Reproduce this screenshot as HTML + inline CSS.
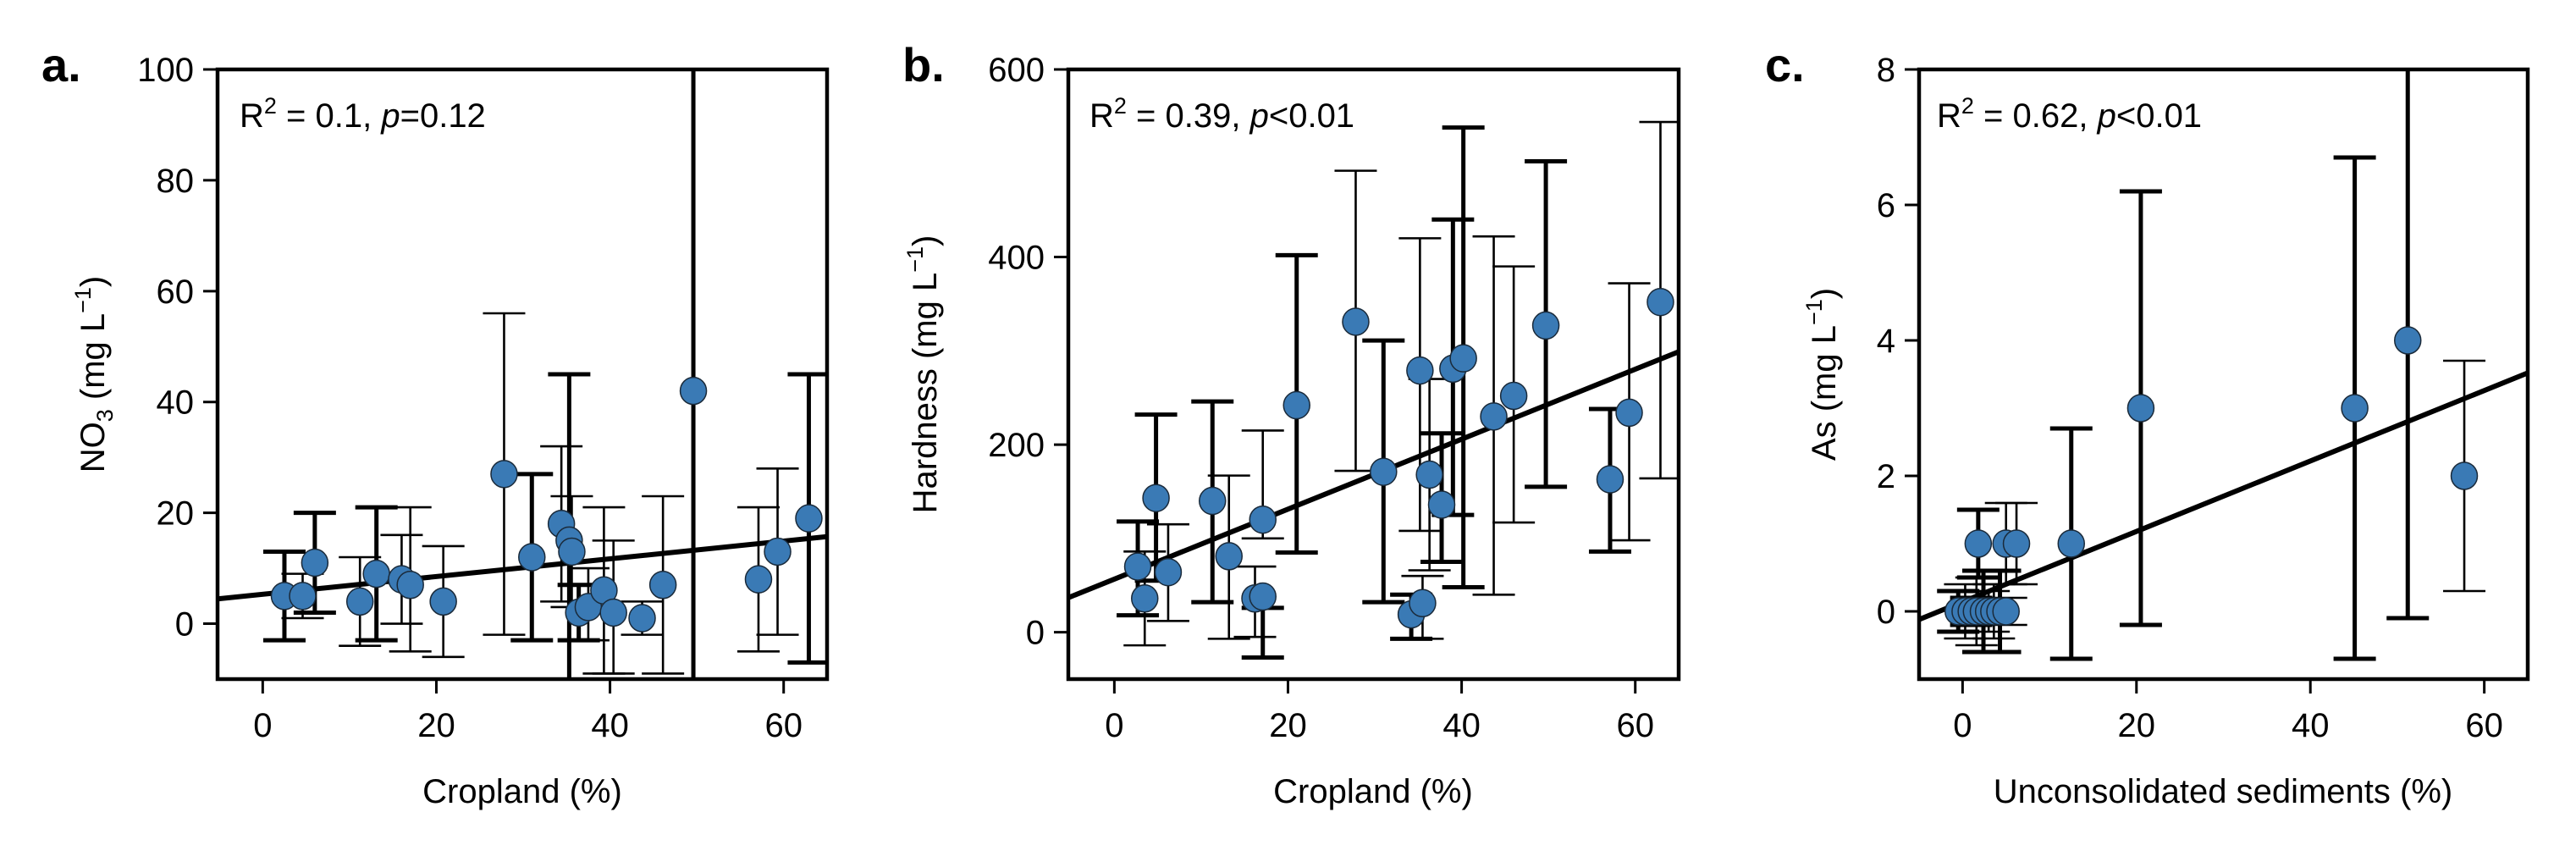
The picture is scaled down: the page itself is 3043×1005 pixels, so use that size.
<!DOCTYPE html>
<html><head><meta charset="utf-8"><style>
html,body{margin:0;padding:0;background:#fff;}
svg{display:block;font-family:"Liberation Sans",Arial,sans-serif;}
</style></head><body>
<svg id="fig" width="3043" height="1005" viewBox="0 0 3043 1005" xmlns="http://www.w3.org/2000/svg"></svg>
<script>
// Panel a: NO3 vs Cropland
const aX  = [2.5,4.6,6,11.2,13.1,16,17,20.8,27.8,31,34.4,35.3,35.6,36.4,37.5,39.3,40.4,43.7,46.1,49.6,57.1,59.3,62.9];
const aY  = [5,5,11,4,9,8,7,4,27,12,18,15,13,2,3,6,2,1,7,42,8,13,19];
const aHi = [13,9,20,12,21,16,21,14,56,27,32,45,23,7,10,21,15,4,23,120,21,28,45];
const aLo = [-3,1,2,-4,-3,0,-5,-6,-2,-3,4,-15,3,-3,-3,-9,-9,-2,-9,-15,-5,-2,-7];
const aBold = [1,0,1,0,1,0,0,0,0,1,0,1,0,1,0,0,0,0,0,1,0,0,1];
const aFit = [5.3,0.16];
const aYTicks = [0,20,40,60,80,100];
const aXTicks = [0,20,40,60];

// Panel b: Hardness vs Cropland
const bX  = [2.7,3.5,4.8,6.2,11.3,13.2,16.2,17.1,17.1,21,27.8,31,34.2,35.2,35.5,36.3,37.7,39,40.2,43.7,46,49.7,57.1,59.3,62.9];
const bY  = [70,36,143,64,140,81,36,38,120,242,331,171,19,279,31,168,136,281,292,230,252,327,163,234,352];
const bHi = [118,86,232,115,246,167,70,26,215,402,492,311,40,420,60,270,212,440,538,422,390,502,238,372,544];
const bLo = [18,-14,55,12,32,-7,-5,-27,100,85,172,32,-7,108,-7,66,75,125,48,40,117,155,86,98,164];
const bBold = [1,0,1,0,1,0,0,1,0,1,0,1,1,0,0,0,1,1,1,0,0,1,1,0,0];
const bFit = [56.6,3.73];
const bYTicks = [0,200,400,600];
const bXTicks = [0,20,40,60];

// Panel c: As vs Unconsolidated sediments
const cX  = [-0.5,0.3,1,1.6,2.4,3,3.6,4.3,5,1.8,5,6.2,12.5,20.5,45.1,51.2,57.7];
const cY  = [0,0,0,0,0,0,0,0,0,1,1,1,1,3,3,4,2];
const cHi = [0.3,0.4,0.2,0.5,0.6,0.3,0.4,0.6,0.2,1.5,1.6,1.6,2.7,6.2,6.7,9,3.7];
const cLo = [-0.3,-0.4,-0.2,-0.5,-0.6,-0.3,-0.4,-0.6,-0.2,0.5,0.4,0.4,-0.7,-0.2,-0.7,-0.1,0.3];
const cBold = [1,0,1,0,1,0,0,1,0,1,0,0,1,1,1,1,0];
const cFit = [0.14,0.052];
const cYTicks = [0,2,4,6,8];
const cXTicks = [0,20,40,60];

const NS = "http://www.w3.org/2000/svg";
const svg = document.getElementById('fig');
function mk(tag, attrs, parent){
  const e = document.createElementNS(NS, tag);
  for (const k in attrs) e.setAttribute(k, attrs[k]);
  (parent||svg).appendChild(e);
  return e;
}

function panel(cfg){
  const g = mk('g', {});
  
  
  const L=cfg.left, R=cfg.right, T=82, B=802;
  const sx = v => L + (v - cfg.xmin) / (cfg.xmax - cfg.xmin) * (R - L);
  const sy = v => B - (v - cfg.ymin) / (cfg.ymax - cfg.ymin) * (B - T);
  const clip = mk('clipPath', {id: cfg.name+'-clip'}, g);
  mk('rect', {x:L, y:T, width:R-L, height:B-T}, clip);
  const plot = mk('g', {'clip-path':'url(#'+cfg.name+'-clip)'}, g);
  
  
  // error bars
  for (let i=0;i<cfg.x.length;i++){
    const w = cfg.bold[i] ? 5 : 2.6;
    const eb = mk('g', {stroke:'#000', 'stroke-width':w}, plot);
    
    
    const x = sx(cfg.x[i]);
    mk('line', {x1:x, x2:x, y1:sy(cfg.hi[i]), y2:sy(cfg.lo[i])}, eb);
    mk('line', {x1:x-25, x2:x+25, y1:sy(cfg.hi[i]), y2:sy(cfg.hi[i])}, eb);
    mk('line', {x1:x-25, x2:x+25, y1:sy(cfg.lo[i]), y2:sy(cfg.lo[i])}, eb);
  }
  // regression line
  const ln = mk('line', {x1:sx(cfg.xmin), y1:sy(cfg.fit[0]+cfg.fit[1]*cfg.xmin), x2:sx(cfg.xmax), y2:sy(cfg.fit[0]+cfg.fit[1]*cfg.xmax), stroke:'#000', 'stroke-width':6}, plot);
  
  
  // points
  for (let i=0;i<cfg.x.length;i++){
    const c = mk('ellipse', {cx:sx(cfg.x[i]), cy:sy(cfg.y[i]), rx:15.5, ry:16, fill:'#3a7ab5', stroke:'#1a2a3a', 'stroke-width':1.5}, plot);
    
    
  }
  // frame
  const fr = mk('rect', {x:L, y:T, width:R-L, height:B-T, fill:'none', stroke:'#000', 'stroke-width':4.5}, g);
  
  
  // y ticks
  for (const t of cfg.yt){
    const y = sy(t);
    const tk = mk('line', {x1:L-17, x2:L, y1:y, y2:y, stroke:'#000', 'stroke-width':3}, g);
    
    
    const tx = mk('text', {x:L-28, y:y+14, 'text-anchor':'end', 'font-size':40}, g);
    tx.textContent = t;
    
    
  }
  for (const t of cfg.xt){
    const x = sx(t);
    const tk = mk('line', {x1:x, x2:x, y1:B, y2:B+17, stroke:'#000', 'stroke-width':3}, g);
    
    
    const tx = mk('text', {x:x, y:870, 'text-anchor':'middle', 'font-size':40}, g);
    tx.textContent = t;
    
    
  }
}
panel({name:'panel-a', left:257, right:977, xmin:-5.2, xmax:65, ymin:-10, ymax:100, x:aX, y:aY, hi:aHi, lo:aLo, bold:aBold, fit:aFit, yt:aYTicks, xt:aXTicks});
panel({name:'panel-b', left:1262, right:1983, xmin:-5.3, xmax:65, ymin:-50, ymax:600, x:bX, y:bY, hi:bHi, lo:bLo, bold:bBold, fit:bFit, yt:bYTicks, xt:bXTicks});
panel({name:'panel-c', left:2267, right:2986, xmin:-5, xmax:65, ymin:-1, ymax:8, x:cX, y:cY, hi:cHi, lo:cLo, bold:cBold, fit:cFit, yt:cYTicks, xt:cXTicks});
</script>
<svg width="0" height="0" style="position:absolute"></svg>
<script>
(function(){
  const NS="http://www.w3.org/2000/svg";
  const svg=document.getElementById('fig');
  const g=document.createElementNS(NS,'g');
  g.innerHTML = `
  <text x="49" y="96" font-size="56" font-weight="bold">a.</text>
  <text x="1066" y="96" font-size="56" font-weight="bold">b.</text>
  <text x="2085" y="96" font-size="56" font-weight="bold">c.</text>
  <text x="283" y="150" font-size="40">R<tspan dy="-16" font-size="27">2</tspan><tspan dy="16"> = 0.1, </tspan><tspan font-style="italic">p</tspan>=0.12</text>
  <text x="1287" y="150" font-size="40">R<tspan dy="-16" font-size="27">2</tspan><tspan dy="16"> = 0.39, </tspan><tspan font-style="italic">p</tspan>&lt;0.01</text>
  <text x="2288" y="150" font-size="40">R<tspan dy="-16" font-size="27">2</tspan><tspan dy="16"> = 0.62, </tspan><tspan font-style="italic">p</tspan>&lt;0.01</text>
  <text x="617" y="948" font-size="40" text-anchor="middle">Cropland (%)</text>
  <text x="1622" y="948" font-size="40" text-anchor="middle">Cropland (%)</text>
  <text x="2626" y="948" font-size="40" text-anchor="middle">Unconsolidated sediments (%)</text>
  <text transform="translate(123,442) rotate(-90)" font-size="40" text-anchor="middle">NO<tspan dy="10" font-size="27">3</tspan><tspan dy="-10"> (mg L</tspan><tspan dy="-16" font-size="27">−1</tspan><tspan dy="16">)</tspan></text>
  <text transform="translate(1106,442) rotate(-90)" font-size="40" text-anchor="middle">Hardness (mg L<tspan dy="-16" font-size="27">−1</tspan><tspan dy="16">)</tspan></text>
  <text transform="translate(2168,442) rotate(-90)" font-size="40" text-anchor="middle">As (mg L<tspan dy="-16" font-size="27">−1</tspan><tspan dy="16">)</tspan></text>`;
  svg.appendChild(g);
})();
</script>
</body></html>
